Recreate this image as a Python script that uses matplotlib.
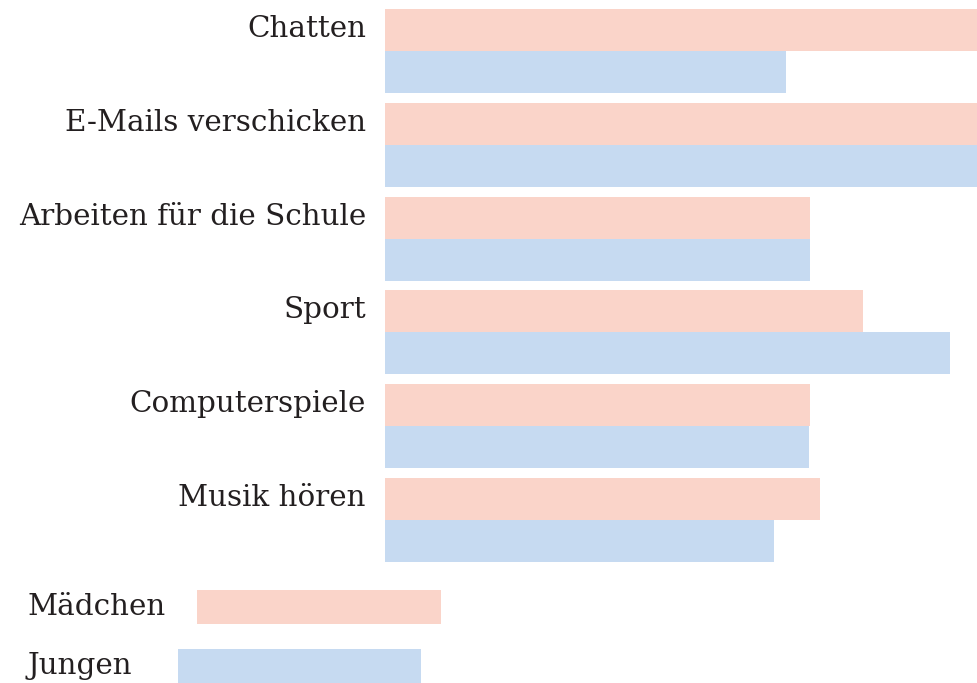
import matplotlib
matplotlib.use("Agg")
import matplotlib.pyplot as plt
import numpy as np
from matplotlib.patches import Rectangle

# Freizeitaktivitäten am Computer, Mädchen vs. Jungen
categories = ["Chatten", "E-Mails verschicken", "Arbeiten für die Schule",
              "Sport", "Computerspiele", "Musik hören"]
maedchen = [100, 100, 71.7, 80.6, 71.7, 73.4]
jungen = [67.6, 100, 71.7, 95.3, 71.5, 65.6]
series_labels = ["Mädchen", "Jungen"]

pink = "#FAD4C9"
blue = "#C6DAF1"
text_col = "#231F20"

plt.rcParams['font.family'] = ['DejaVu Serif']

W, H = 978, 683
fig = plt.figure(figsize=(W / 100, H / 100), dpi=100)

# bar area in pixels: x 385..978, y 9..562 (from top)
ax = fig.add_axes([385 / W, (H - 562) / H, (W - 385) / W, (562 - 9) / H])
h = 0.448
y = np.arange(len(categories))
ax.barh(y - h, maedchen, height=h, align='edge', color=pink, linewidth=0)
ax.barh(y, jungen, height=h, align='edge', color=blue, linewidth=0)
ax.set_xlim(0, 100)
ax.set_ylim(len(categories) - 1 + h, -h)
ax.axis('off')

for yi, name in zip(y, categories):
    ax.text(-19 / (W - 385) * 100, yi - h / 2 - 0.01, name, ha='right', va='center',
            fontsize=21.2, color=text_col, clip_on=False)

# legend swatches
legend_rows = [(197, 441, 590, 624), (178, 421, 649, 683)]
for (x0, x1, y0, y1), col, lab in zip(legend_rows, [pink, blue], series_labels):
    fig.patches.append(Rectangle((x0 / W, 1 - y1 / H), (x1 - x0) / W, (y1 - y0) / H,
                                 transform=fig.transFigure, color=col, linewidth=0))
    fig.text(28 / W, 1 - (y0 + y1) / 2 / H, lab, ha='left', va='center',
             fontsize=21.2, color=text_col)

fig.savefig("out.png", dpi=100)
